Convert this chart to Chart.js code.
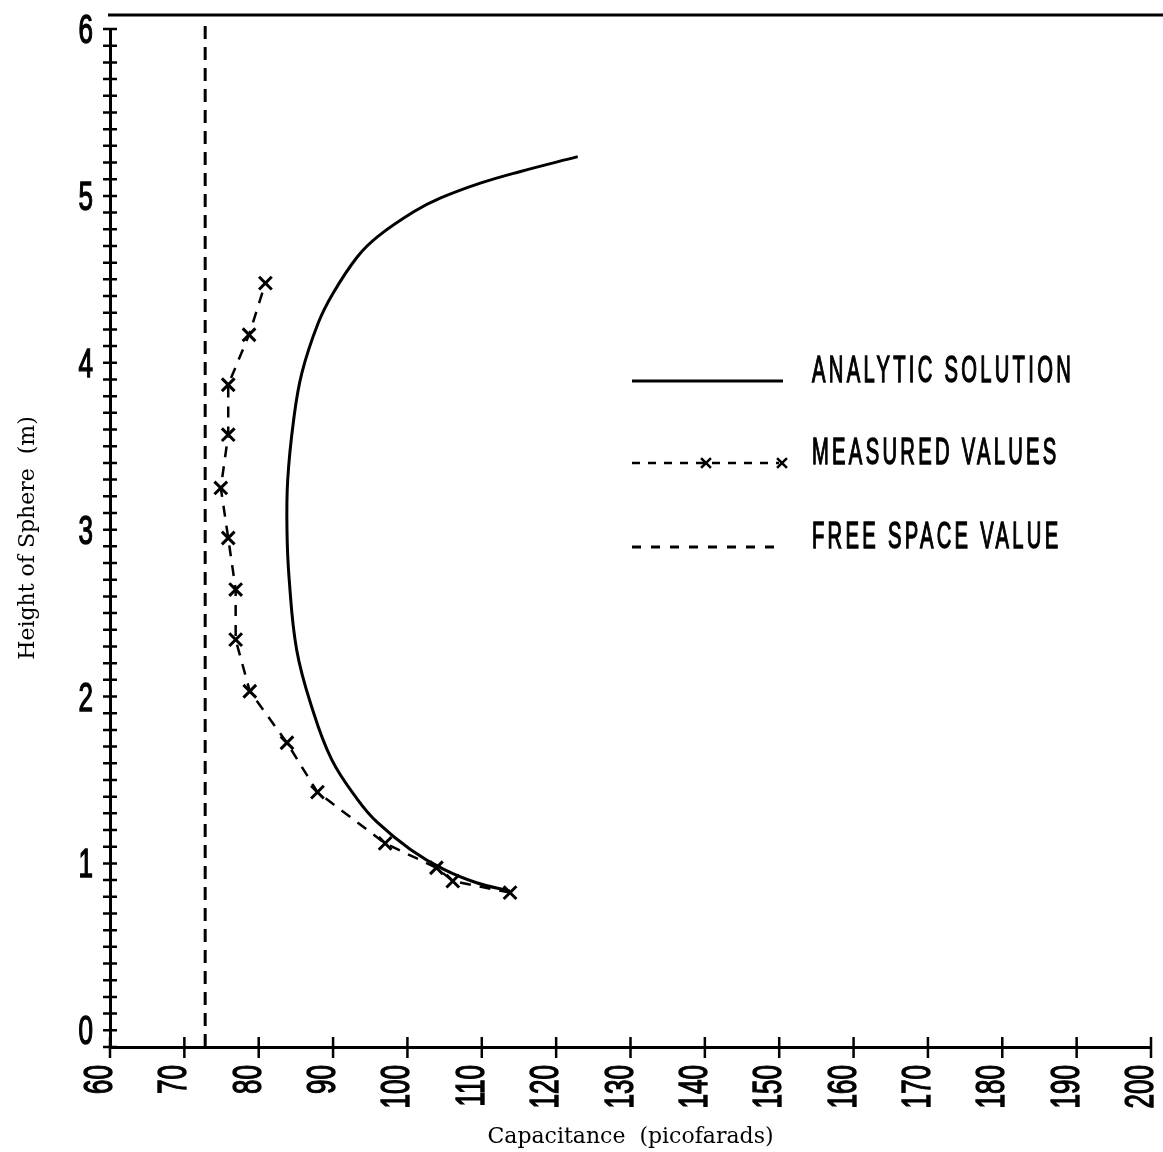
<!DOCTYPE html>
<html>
<head>
<meta charset="utf-8">
<script src="https://cdn.jsdelivr.net/npm/chart.js@4.4.1/dist/chart.umd.min.js"></script>
<style>
  html, body { margin: 0; padding: 0; background: #fff; }
  canvas { display: block; }
</style>
</head>
<body>
<canvas id="chart" width="1163" height="1152"></canvas>
<script>
// Analytic solution: capacitance (pF) against sphere height (m)
const analyticCap    = [113.8, 109.3, 104.9, 100.4, 96.0, 93.3, 89.8, 87.1, 85.1, 84.1, 83.8,
                        83.9, 84.7, 85.8, 88.0, 90.0, 93.3, 96.0, 100.9, 104.4, 109.8, 115.1, 122.9];
const analyticHeight = [0.834, 0.884, 0.964, 1.084, 1.244, 1.383, 1.623, 1.942, 2.281, 2.701, 3.0,
                        3.299, 3.659, 3.938, 4.238, 4.417, 4.637, 4.756, 4.906, 4.986, 5.076, 5.145, 5.235];

// Measured values
const measuredCap    = [113.8, 106.1, 103.9, 97.0, 87.9, 83.8, 78.8, 76.9, 76.9, 75.9, 74.9, 75.9, 75.9, 78.7, 80.9];
const measuredHeight = [0.825, 0.894, 0.974, 1.12, 1.427, 1.723, 2.032, 2.341, 2.641, 2.95, 3.25, 3.569, 3.868, 4.168, 4.477];

// Free space value (vertical reference line)
const freeSpaceCap    = [72.8, 72.8];
const freeSpaceHeight = [-0.1, 6.04];

// Tick labels
const xTickLabels = ['60', '70', '80', '90', '100', '110', '120', '130', '140', '150', '160', '170', '180', '190', '200'];
const yTickLabels = ['0', '1', '2', '3', '4', '5', '6'];

const legendLabels = ['ANALYTIC SOLUTION', 'MEASURED VALUES', 'FREE SPACE VALUE'];

const toPoints = (xs, ys) => xs.map((v, i) => ({ x: v, y: ys[i] }));

Chart.defaults.color = '#000';

const titleFont = { family: '"DejaVu Serif", serif', size: 22 };
const plotterFont = '40px "Liberation Sans", sans-serif';
const legendFont = '37px "Liberation Sans", sans-serif';

// Plotter-style text: narrow glyphs with a slightly heavier pen
function plotterText(ctx, text, squeeze) {
  ctx.scale(squeeze, 1);
  ctx.fillText(text, 0, 0);
  ctx.lineWidth = 1.4;
  ctx.strokeText(text, 0, 0);
}

// Cross-shaped tick marks on both axes plus the top frame line
const axisMarks = {
  id: 'axisMarks',
  afterDraw(chart) {
    const { ctx, chartArea, scales: { x, y } } = chart;
    ctx.save();
    ctx.strokeStyle = '#000';
    ctx.lineCap = 'butt';
    ctx.lineWidth = 3;
    ctx.beginPath();
    ctx.moveTo(chartArea.left - 2, chartArea.top - 14);
    ctx.lineTo(chart.width, chartArea.top - 14);
    ctx.stroke();
    ctx.lineWidth = 2.5;
    ctx.beginPath();
    y.ticks.forEach(t => {
      const py = y.getPixelForValue(t.value);
      ctx.moveTo(chartArea.left - 7, py);
      ctx.lineTo(chartArea.left + 7, py);
    });
    x.ticks.forEach(t => {
      const px = x.getPixelForValue(t.value);
      ctx.moveTo(px, chartArea.bottom - 10);
      ctx.lineTo(px, chartArea.bottom + 11);
    });
    ctx.stroke();
    ctx.restore();
  }
};

// Tall, narrow tick numbers
const plotterLabels = {
  id: 'plotterLabels',
  afterDraw(chart) {
    const { ctx, chartArea, scales: { x, y } } = chart;
    ctx.save();
    ctx.fillStyle = '#000';
    ctx.strokeStyle = '#000';
    ctx.font = plotterFont;
    const squeeze = 14.5 / ctx.measureText('0').width;
    const cap = 28;
    ctx.textAlign = 'right';
    ctx.textBaseline = 'alphabetic';
    yTickLabels.forEach(lbl => {
      const py = y.getPixelForValue(Number(lbl));
      ctx.save();
      ctx.translate(chartArea.left - 17, py + cap / 2);
      plotterText(ctx, lbl, squeeze);
      ctx.restore();
    });
    xTickLabels.forEach(lbl => {
      const px = x.getPixelForValue(Number(lbl));
      ctx.save();
      ctx.translate(px + 2, chartArea.bottom + 18);
      ctx.rotate(-Math.PI / 2);
      plotterText(ctx, lbl, squeeze);
      ctx.restore();
    });
    ctx.restore();
  }
};

// Legend block drawn inside the plot area
const legendBlock = {
  id: 'legendBlock',
  afterDraw(chart) {
    const { ctx } = chart;
    const ds = chart.data.datasets;
    const x0 = 632, x1 = 783, textX = 812;
    const rows = [381, 463, 547];
    ctx.save();
    ctx.strokeStyle = '#000';
    ctx.fillStyle = '#000';

    // analytic: solid
    ctx.lineWidth = ds[0].borderWidth;
    ctx.setLineDash([]);
    ctx.beginPath(); ctx.moveTo(x0, rows[0]); ctx.lineTo(x1, rows[0]); ctx.stroke();

    // measured: dashed with markers
    ctx.lineWidth = 2.5;
    ctx.setLineDash([8, 8]);
    ctx.beginPath(); ctx.moveTo(x0, rows[1]); ctx.lineTo(x1 - 4, rows[1]); ctx.stroke();
    ctx.setLineDash([]);
    const marker = { pointStyle: ds[1].pointStyle, radius: 7, rotation: 0, borderWidth: 3 };
    Chart.helpers.drawPoint(ctx, marker, 706, rows[1]);
    Chart.helpers.drawPoint(ctx, marker, 782, rows[1]);

    // free space: dashed
    ctx.lineWidth = 3;
    ctx.setLineDash([9, 10]);
    ctx.beginPath(); ctx.moveTo(x0, rows[2]); ctx.lineTo(x1, rows[2]); ctx.stroke();
    ctx.setLineDash([]);

    ctx.font = legendFont;
    ctx.letterSpacing = '6px';
    ctx.textBaseline = 'alphabetic';
    ctx.textAlign = 'left';
    const squeeze = 262 / ctx.measureText(legendLabels[0]).width;
    legendLabels.forEach((label, i) => {
      ctx.save();
      ctx.translate(textX, rows[i] + 1);
      plotterText(ctx, label, squeeze);
      ctx.restore();
    });
    ctx.restore();
  }
};

new Chart(document.getElementById('chart'), {
  type: 'scatter',
  data: {
    datasets: [
      {
        label: legendLabels[0],
        data: toPoints(analyticCap, analyticHeight),
        showLine: true,
        borderColor: '#000',
        borderWidth: 3,
        tension: 0.4,
        pointRadius: 0
      },
      {
        label: legendLabels[1],
        data: toPoints(measuredCap, measuredHeight),
        showLine: true,
        borderColor: '#000',
        borderWidth: 2.5,
        borderDash: [11, 9],
        tension: 0,
        pointStyle: 'crossRot',
        pointRadius: 9,
        pointBorderWidth: 3,
        pointBorderColor: '#000'
      },
      {
        label: legendLabels[2],
        data: toPoints(freeSpaceCap, freeSpaceHeight),
        showLine: true,
        clip: false,
        borderColor: '#000',
        borderWidth: 3,
        borderDash: [13, 8],
        pointRadius: 0
      }
    ]
  },
  options: {
    responsive: false,
    animation: false,
    devicePixelRatio: 1,
    layout: { padding: { top: 29, right: 3, left: 0, bottom: 0 } },
    plugins: {
      legend: { display: false },
      tooltip: { enabled: false }
    },
    scales: {
      x: {
        type: 'linear',
        min: 60,
        max: 200,
        grid: { display: false },
        border: { display: true, color: '#000', width: 3 },
        ticks: { stepSize: 10, autoSkip: false, display: false },
        title: {
          display: true,
          text: 'Capacitance  (picofarads)',
          font: titleFont,
          color: '#000',
          padding: { top: 0, bottom: 2 }
        },
        afterFit: (s) => { s.height = 105; s.paddingLeft = 0; s.paddingRight = 0; }
      },
      y: {
        type: 'linear',
        min: -0.1,
        max: 6.0,
        grid: { display: false },
        border: { display: true, color: '#000', width: 3 },
        // minor marks every 0.1 m from the axis corner up to the top
        afterBuildTicks: (s) => {
          const marks = [];
          for (let k = -1; k <= 60; k++) marks.push({ value: k / 10 });
          s.ticks = marks;
        },
        ticks: { autoSkip: false, display: false },
        title: {
          display: true,
          text: 'Height of Sphere  (m)',
          font: titleFont,
          color: '#000',
          padding: { top: 15, bottom: 0 }
        },
        afterFit: (s) => { s.width = 110; s.paddingTop = 0; s.paddingBottom = 0; }
      }
    }
  },
  plugins: [axisMarks, plotterLabels, legendBlock]
});
</script>
</body>
</html>
